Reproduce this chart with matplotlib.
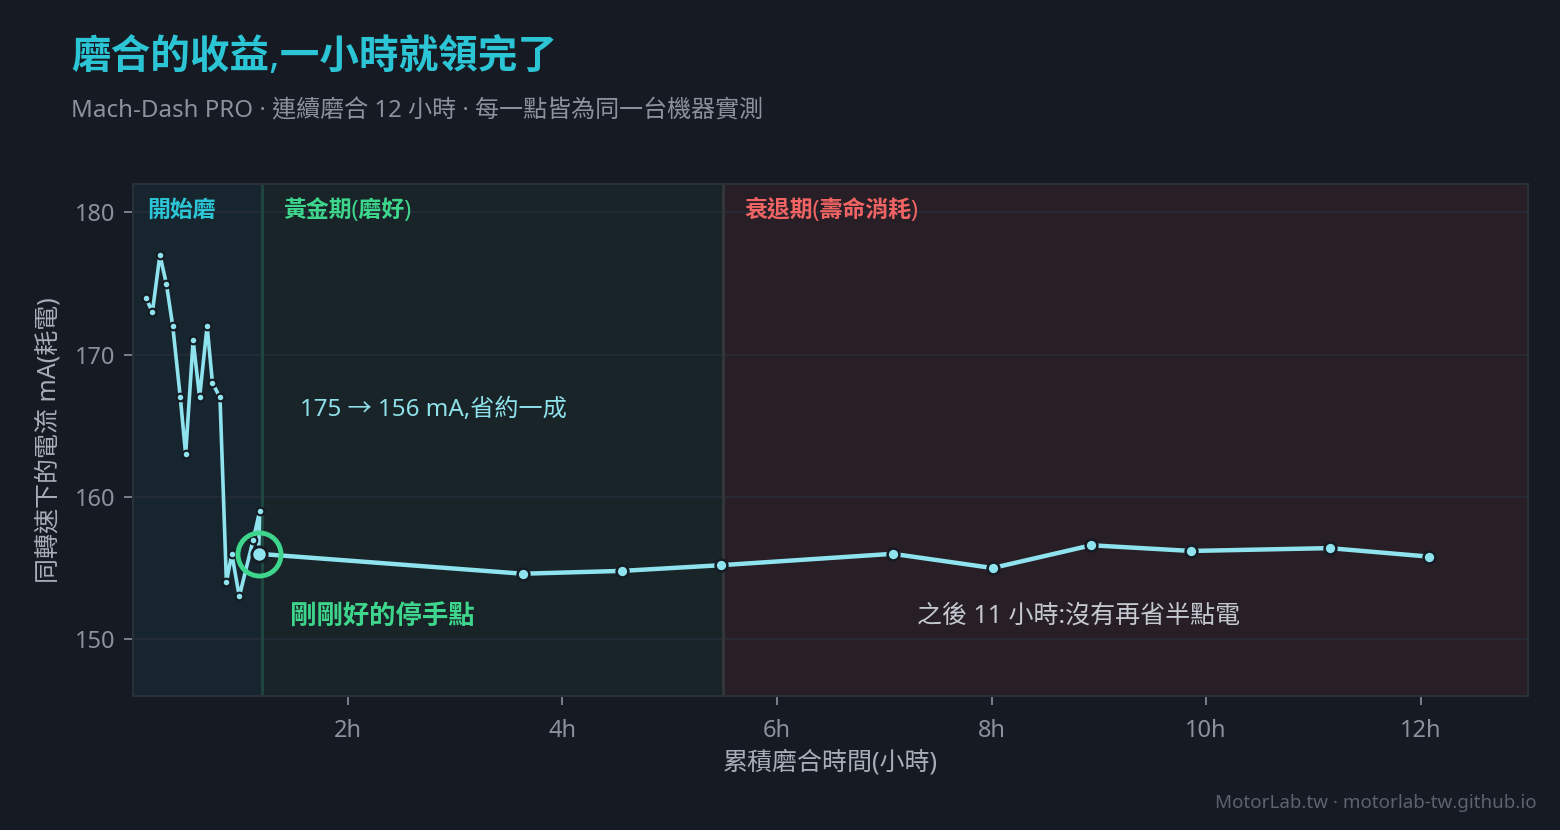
import matplotlib
matplotlib.use("Agg")
import matplotlib.pyplot as plt

plt.rcParams['font.family'] = ['Noto Sans', 'Noto Sans CJK TC', 'DejaVu Sans']

# ---- data ----
early_hours = [0.12, 0.18, 0.25, 0.31, 0.37, 0.44, 0.49, 0.56, 0.62, 0.69, 0.74, 0.81,
               0.87, 0.92, 0.99, 1.12, 1.18]
early_ma = [174, 173, 177, 175, 172, 167, 163, 171, 167, 172, 168, 167,
            154, 156, 153, 157, 159]
stop_hour = 1.17
stop_ma = 156
late_hours = [3.63, 4.56, 5.48, 7.08, 8.01, 8.93, 9.86, 11.15, 12.08]
late_ma = [154.6, 154.8, 155.2, 156.0, 155.0, 156.6, 156.2, 156.4, 155.8]
x_ticks = [2, 4, 6, 8, 10, 12]
x_ticklabels = ["2h", "4h", "6h", "8h", "10h", "12h"]
y_ticks = [150, 160, 170, 180]
phases = [(0, 1.2), (1.2, 5.5), (5.5, 13)]
phase_labels = ["開始磨", "黃金期(磨好)", "衰退期(壽命消耗)"]

BG = "#161a22"
LINE = "#8ee3ee"
CYAN = "#2cc5d5"
GREEN = "#3dd68c"
RED = "#f06464"
GREY = "#8b929e"

fig = plt.figure(figsize=(15.6, 8.3), dpi=100, facecolor=BG)
ax = fig.add_axes([0.0853, 0.1614, 0.8942, 0.6169])
ax.set_facecolor(BG)

phase_colors = ["#17262e", "#182427", "#271e26"]
label_colors = [CYAN, GREEN, RED]
label_offsets = [0.13, 0.2, 0.2]
for (a, b), c in zip(phases, phase_colors):
    ax.axvspan(a, b, color=c, zorder=0, lw=0)
ax.axvline(phases[1][0], color="#1f4840", lw=2, zorder=1)
ax.axvline(phases[2][0], color="#35383a", lw=2, zorder=1)

for (a, b), lab, c, off in zip(phases, phase_labels, label_colors, label_offsets):
    ax.text(a + off, 180.1, lab, color=c, fontsize=16.5, fontweight="semibold",
            va="center", ha="left", zorder=5)

ax.grid(axis="y", color="#272c38", lw=1.2, zorder=0.5)
ax.set_axisbelow(True)

ax.plot(early_hours + [stop_hour], early_ma + [stop_ma], color=LINE, lw=2.6, zorder=3,
        solid_capstyle="round")
ax.plot([stop_hour] + late_hours, [stop_ma] + late_ma, color=LINE, lw=3.2, zorder=3,
        solid_capstyle="round")
ax.plot(early_hours, early_ma, "o", ms=5.5, mfc=LINE, mec="#161a22", mew=1.5, zorder=4)
ax.plot(late_hours, late_ma, "o", ms=8.5, mfc=LINE, mec="#161a22", mew=1.8, zorder=4)
ax.plot([stop_hour], [stop_ma], "o", ms=11, mfc=LINE, mec="#161a22", mew=2, zorder=5)
ax.plot([stop_hour], [stop_ma], "o", ms=31, mfc="none", mec=GREEN, mew=3.5, zorder=6)

ax.text(1.56, 166.1, "175 → 156 mA,省約一成", color="#8ee0ea", fontsize=17.4,
        va="center", ha="left", zorder=5)
ax.text(1.46, 151.6, "剛剛好的停手點", color=GREEN, fontsize=19, fontweight="bold",
        va="center", ha="left", zorder=5)
ax.text(8.81, 151.6, "之後 11 小時:沒有再省半點電", color="#c4c8d0", fontsize=18,
        va="center", ha="center", zorder=5)

ax.set_xlim(0, 13)
ax.set_ylim(146, 182)
ax.set_xticks(x_ticks)
ax.set_xticklabels(x_ticklabels)
ax.set_yticks(y_ticks)
ax.tick_params(colors=GREY, labelsize=17, length=6.5, width=1.2, pad=6)
ax.tick_params(axis="x", pad=10)
for s in ax.spines.values():
    s.set_color("#2a303a")
    s.set_linewidth(1.5)

ax.set_xlabel("累積磨合時間(小時)", color="#a8adb8", fontsize=18, labelpad=5)
ax.set_ylabel("同轉速下的電流 mA(耗電)", color="#a8adb8", fontsize=18, labelpad=10)

fig.text(0.0455, 0.93, "磨合的收益,一小時就領完了", color=CYAN, fontsize=28.5,
         fontweight="bold", va="center", ha="left")
fig.text(0.0455, 0.866, "Mach-Dash PRO · 連續磨合 12 小時 · 每一點皆為同一台機器實測",
         color=GREY, fontsize=17.3, va="center", ha="left")
fig.text(0.985, 0.032, "MotorLab.tw · motorlab-tw.github.io", color="#5c6270",
         fontsize=13.5, va="center", ha="right")

fig.savefig("out.png", dpi=100, facecolor=BG)
